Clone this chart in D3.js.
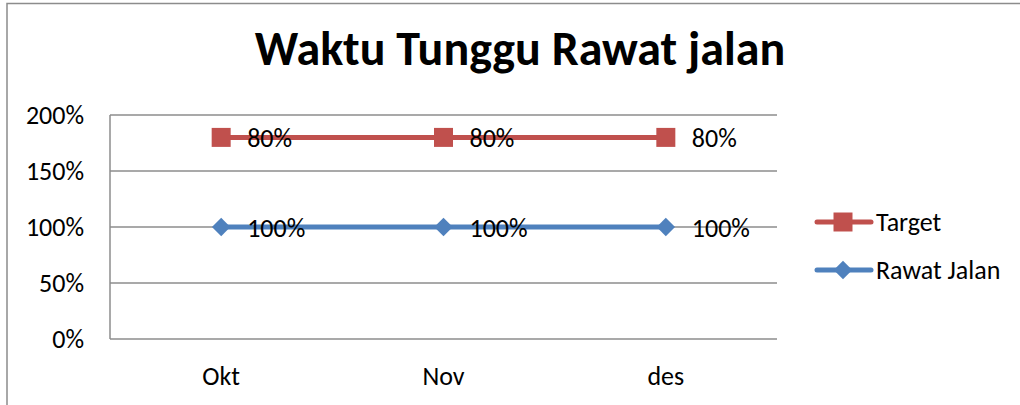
<!DOCTYPE html>
<html>
<head>
<meta charset="utf-8">
<script src="https://cdn.jsdelivr.net/npm/d3@7"></script>
<style>
  body { margin: 0; background: #fff; }
  svg text { font-family: Carlito, Lato, "Open Sans", sans-serif; fill: #000; }
</style>
</head>
<body>
<div id="chart"></div>
<script>
// chart data
var months = ['Okt', 'Nov', 'des'];
var rawatJalan = [1, 1, 1];
var target = [0.8, 0.8, 0.8];
var yTicks = [0, 0.5, 1, 1.5, 2];

const W = 1020, H = 405;
const RED = '#C0504D', BLUE = '#4F81BD';
const FS = '26px';

var svg = d3.select('#chart').append('svg')
  .attr('width', W).attr('height', H);

// outer chart frame (only top and left visible)
svg.append('path')
  .attr('d', 'M7,405 V3.5 H1020')
  .attr('fill', 'none')
  .attr('stroke', '#8c8c8c')
  .attr('stroke-width', 1.5);

svg.append('text')
  .attr('x', 520).attr('y', 65)
  .attr('text-anchor', 'middle')
  .style('font-size', '48px')
  .style('font-weight', 'bold')
  .text('Waktu Tunggu Rawat jalan');

var x = d3.scaleBand().domain(months).range([110, 777]);
var y = d3.scaleLinear().domain([0, 2]).range([339, 115]);

// gridlines
svg.selectAll('line.grid')
  .data(yTicks)
  .enter().append('line')
  .attr('class', 'grid')
  .attr('x1', 110).attr('x2', 777)
  .attr('y1', (d) => y(d)).attr('y2', (d) => y(d))
  .attr('stroke', '#8c8c8c').attr('stroke-width', 1.5);

svg.append('line')
  .attr('x1', 110).attr('x2', 110)
  .attr('y1', y(2)).attr('y2', y(0))
  .attr('stroke', '#8c8c8c').attr('stroke-width', 1.5);

svg.selectAll('text.ytick')
  .data(yTicks)
  .enter().append('text')
  .attr('class', 'ytick')
  .attr('x', 84).attr('y', (d) => y(d) + 9)
  .attr('text-anchor', 'end')
  .style('font-size', FS)
  .text(d3.format('.0%'));

svg.selectAll('text.xtick')
  .data(months)
  .enter().append('text')
  .attr('class', 'xtick')
  .attr('x', (d) => x(d) + x.bandwidth() / 2).attr('y', 385)
  .attr('text-anchor', 'middle')
  .style('font-size', FS)
  .text((d) => d);

// stacked: target sits on top of rawat jalan
var sq = d3.symbol().type(d3.symbolSquare).size(361);
var dia = d3.symbol().type(d3.symbolSquare).size(170);
var series = [
  { name: 'Target', color: RED, sym: sq, rot: 0, vals: target, base: rawatJalan },
  { name: 'Rawat Jalan', color: BLUE, sym: dia, rot: 45, vals: rawatJalan, base: [0, 0, 0] },
];

var line = d3.line()
  .x((d) => x(d.m) + x.bandwidth() / 2)
  .y((d) => y(d.v + d.b));

series.forEach((s) => {
  var pts = months.map((m, i) => ({ m: m, v: s.vals[i], b: s.base[i] }));
  svg.append('path')
    .datum(pts)
    .attr('d', line)
    .attr('fill', 'none')
    .attr('stroke', s.color)
    .attr('stroke-width', 5);

  svg.selectAll(null)
    .data(pts)
    .enter().append('path')
    .attr('transform', (d) => `translate(${x(d.m) + x.bandwidth() / 2},${y(d.v + d.b)}) rotate(${s.rot})`)
    .attr('d', s.sym)
    .attr('fill', s.color);

  svg.selectAll(null)
    .data(pts)
    .enter().append('text')
    .attr('x', (d) => x(d.m) + x.bandwidth() / 2 + 26)
    .attr('y', (d) => y(d.v + d.b) + 10)
    .style('font-size', FS)
    .text((d) => d3.format('.0%')(d.v));
});

// legend
var legend = svg.selectAll('g.legend')
  .data(series)
  .enter().append('g')
  .attr('class', 'legend')
  .attr('transform', (d, i) => `translate(0,${222 + i * 48})`);

legend.append('line')
  .attr('x1', 817).attr('x2', 871)
  .attr('stroke', (d) => d.color)
  .attr('stroke-width', 5)
  .attr('stroke-linecap', 'round');

legend.append('path')
  .attr('transform', (d) => `translate(843,0) rotate(${d.rot})`)
  .attr('d', (d) => d.sym())
  .attr('fill', (d) => d.color);

legend.append('text')
  .attr('x', 876).attr('y', 9)
  .style('font-size', FS)
  .text((d) => d.name);
</script>
</body>
</html>
